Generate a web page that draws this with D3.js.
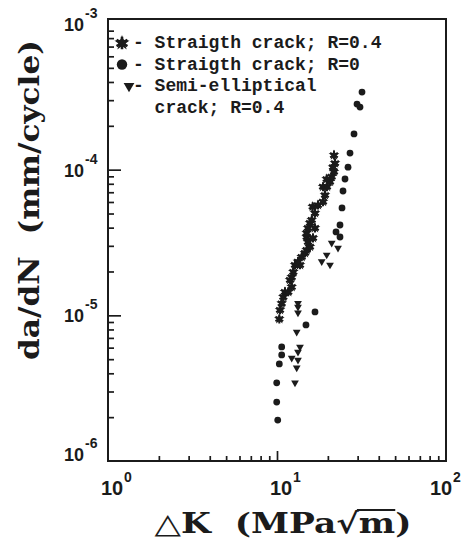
<!DOCTYPE html>
<html>
<head>
<meta charset="utf-8">
<script src="https://cdn.jsdelivr.net/npm/d3@7"></script>
<style>
  body { margin: 0; background: #fff; }
  text { fill: #1b1b1b; }
</style>
</head>
<body>
<svg id="chart"></svg>
<script>
// straight crack, R=0.4 (asterisks)
const starDK = [10.32, 10.42, 10.66, 10.90, 11.15, 11.66, 11.94, 12.22, 12.49, 12.22,
  12.78, 13.68, 14.00, 13.31, 14.64, 14.98, 15.67, 14.98, 16.33, 15.25,
  14.98, 15.67, 15.25, 16.78, 16.05, 16.78, 16.26, 17.48, 18.72, 19.23,
  18.72, 19.76, 20.59, 19.68, 21.07, 21.74, 22.04, 21.74, 21.45]
const starRate = [9.45e-6, 1.09e-5, 1.21e-5, 1.34e-5, 1.45e-5, 1.45e-5, 1.75e-5, 1.57e-5, 1.99e-5, 1.83e-5,
  2.22e-5, 2.22e-5, 2.52e-5, 2.34e-5, 2.68e-5, 2.81e-5, 2.96e-5, 3.45e-5, 3.40e-5, 3.19e-5,
  3.68e-5, 4.31e-5, 3.98e-5, 3.98e-5, 4.52e-5, 5.04e-5, 5.57e-5, 5.72e-5, 6.03e-5, 6.70e-5,
  7.64e-5, 7.64e-5, 8.27e-5, 8.63e-5, 8.95e-5, 9.69e-5, 1.11e-4, 1.26e-4, 1.04e-4]

// straight crack, R=0 (dots)
const dotDK = [10.10, 9.96, 9.96, 10.32, 10.66, 10.66, 14.84, 16.78, 22.35, 23.59,
  23.59, 24.25, 24.58, 25.26, 26.32, 27.04, 28.56, 30.99, 29.75, 31.84]
const dotRate = [1.91e-6, 2.54e-6, 3.44e-6, 4.64e-6, 5.35e-6, 6.07e-6, 8.59e-6, 1.055e-5, 3.74e-5, 4.17e-5,
  3.45e-5, 5.46e-5, 7.14e-5, 8.63e-5, 1.04e-4, 1.30e-4, 1.76e-4, 2.69e-4, 2.82e-4, 3.41e-4]

// semi-elliptical crack, R=0.4 (triangles)
const triDK = [13.31, 13.31, 13.31, 13.08, 13.68, 13.31, 12.22, 13.31, 13.08, 12.78,
  18.39, 19.68, 20.59, 21.07, 22.96]
const triRate = [1.21e-5, 1.14e-5, 1.04e-5, 7.69e-6, 6.07e-6, 5.61e-6, 5.10e-6, 4.94e-6, 4.36e-6, 3.44e-6,
  2.34e-5, 2.60e-5, 2.22e-5, 3.14e-5, 2.90e-5]

const xTickValues = [1, 10, 100]
const xTickExps = ['0', '1', '2']
const yTickValues = [1e-6, 1e-5, 1e-4, 1e-3]
const yTickExps = ['-6', '-5', '-4', '-3']
const legendLabels = [['- Straigth crack; R=0.4'], ['- Straigth crack; R=0'], ['- Semi-elliptical', '  crack; R=0.4']]

const width = 471
const height = 544
const ink = '#1b1b1b'

const svg = d3.select('#chart').attr('width', width).attr('height', height)

const x = d3.scaleLog().domain([1, 100]).range([108, 446])
const y = d3.scaleLog().domain([1e-6, 1e-3]).range([461, 24])

const frameTop = 19
svg.append('rect')
  .attr('x', x(1))
  .attr('y', frameTop)
  .attr('width', x(100) - x(1))
  .attr('height', y(1e-6) - frameTop)
  .attr('fill', 'none')
  .attr('stroke', ink)
  .attr('stroke-width', 2)

const isMajor = (v) => Math.abs(Math.log10(v) - Math.round(Math.log10(v))) < 1e-9

function tickAxis(axis, values, size) {
  return (g) => {
    g.call(axis.tickValues(values).tickSizeInner(-size).tickSizeOuter(0).tickFormat(''))
    g.select('.domain').remove()
    g.selectAll('line').attr('stroke', ink).attr('stroke-width', 1.7)
  }
}

const yAll = y.ticks()
svg.append('g').attr('transform', `translate(${x(1)},0)`)
  .call(tickAxis(d3.axisLeft(y), yAll.filter((v) => !isMajor(v) && v < 1e-3), 6))
svg.append('g').attr('transform', `translate(${x(1)},0)`)
  .call(tickAxis(d3.axisLeft(y), yAll.filter((v) => isMajor(v) && v < 1e-3 && v > 1e-6), 13))

const xAll = x.ticks()
svg.append('g').attr('transform', `translate(0,${y(1e-6)})`)
  .call(tickAxis(d3.axisBottom(x), xAll.filter((v) => !isMajor(v)), 5))
svg.append('g').attr('transform', `translate(0,${y(1e-6)})`)
  .call(tickAxis(d3.axisBottom(x), xAll.filter((v) => isMajor(v) && v > 1 && v < 100), 10))

// tick labels: 10 with superscript
yTickValues.forEach((v, i) => {
  const ty = y(v) + (i === 0 ? -7 : 0)
  svg.append('text')
    .attr('x', 84).attr('y', ty + 7)
    .attr('text-anchor', 'end')
    .style('font', 'bold 18px "Liberation Sans", Arial, sans-serif')
    .text('10')
  svg.append('text')
    .attr('x', 85).attr('y', ty - 6)
    .style('font', 'bold 14px "Liberation Sans", Arial, sans-serif')
    .text(yTickExps[i])
})

xTickValues.forEach((v, i) => {
  const cx = x(v) + (i === xTickValues.length - 1 ? -5 : 4)
  svg.append('text')
    .attr('x', cx).attr('y', 495)
    .attr('text-anchor', 'middle')
    .style('font', 'bold 20px "Liberation Sans", Arial, sans-serif')
    .text('10')
  svg.append('text')
    .attr('x', cx + 12).attr('y', 482)
    .style('font', 'bold 14px "Liberation Sans", Arial, sans-serif')
    .text(xTickExps[i])
})

// axis titles
svg.append('text')
  .attr('transform', 'translate(39,200) rotate(-90)')
  .attr('text-anchor', 'middle')
  .attr('textLength', 320)
  .attr('lengthAdjust', 'spacingAndGlyphs')
  .style('white-space', 'pre')
  .style('font', 'bold 27px "DejaVu Serif", "Liberation Serif", serif')
  .text('da/dN  (mm/cycle)')

const xTitle = svg.append('text')
  .attr('x', 283).attr('y', 533)
  .attr('text-anchor', 'middle')
  .attr('textLength', 257)
  .attr('lengthAdjust', 'spacingAndGlyphs')
  .style('white-space', 'pre')
  .style('font', 'bold 28px "DejaVu Serif", "Liberation Serif", serif')
xTitle.append('tspan').style('font-family', '"DejaVu Sans", sans-serif').style('font-weight', 'normal').text('\u25B3')
xTitle.append('tspan').text('K  (MPa\u221Am)')
const rootBox = xTitle.node().getExtentOfChar(8)
const mBox = xTitle.node().getExtentOfChar(9)
svg.append('line')
  .attr('x1', rootBox.x + rootBox.width - 2)
  .attr('x2', mBox.x + mBox.width)
  .attr('y1', rootBox.y + 3)
  .attr('y2', rootBox.y + 3)
  .attr('stroke', ink)
  .attr('stroke-width', 2.2)

// markers
const starPath = d3.symbol(d3.symbolStar)
const astPath = d3.symbol(d3.symbolAsterisk || d3.symbolCross)
const triPath = d3.symbol(d3.symbolTriangle)

// filled gear-like asterisk, as the scanned markers look
function drawStar(g, size) {
  g.append('path').attr('d', astPath.size(size * 1.4)()).attr('fill', 'none').attr('stroke', ink).attr('stroke-width', size > 60 ? 2.6 : 2)
  g.append('path').attr('d', starPath.size(size * 0.9)()).attr('fill', ink)
  g.append('circle').attr('r', Math.sqrt(size) / 2.4).attr('fill', ink)
}

const marks = svg.append('g')

marks.selectAll('.star')
  .data(d3.zip(starDK, starRate))
  .join('g')
  .classed('star', true)
  .attr('transform', (d) => `translate(${x(d[0])},${y(d[1])})`)
  .each(function () { drawStar(d3.select(this), 40) })

marks.selectAll('.dot')
  .data(d3.zip(dotDK, dotRate))
  .join('circle')
  .classed('dot', true)
  .attr('cx', (d) => x(d[0]))
  .attr('cy', (d) => y(d[1]))
  .attr('r', 3.4)
  .attr('fill', ink)

marks.selectAll('.tri')
  .data(d3.zip(triDK, triRate))
  .join('path')
  .classed('tri', true)
  .attr('d', triPath.size(26)())
  .attr('transform', (d) => `translate(${x(d[0])},${y(d[1])}) rotate(180)`)
  .attr('fill', ink)

// legend
const legend = svg.append('g')
const lineGap = 21.5
const legendTop = 48
let row = 0
legendLabels.forEach((lines, i) => {
  const my = legendTop + row * lineGap - 5
  const mk = legend.append('g')
  if (i === 0) {
    mk.attr('transform', `translate(122,${my})`)
    drawStar(mk, 80)
  } else if (i === 1) {
    mk.attr('transform', `translate(122,${my})`)
    mk.append('circle').attr('r', 5.2).attr('fill', ink)
  } else {
    mk.append('path').attr('d', triPath.size(50)())
      .attr('transform', `translate(129,${my}) rotate(180)`).attr('fill', ink)
  }
  lines.forEach((txt) => {
    legend.append('text')
      .attr('x', 133)
      .attr('y', legendTop + row * lineGap)
      .style('white-space', 'pre')
      .style('font', 'bold 18px "Liberation Mono", "DejaVu Sans Mono", monospace')
      .text(txt)
    row += 1
  })
})
</script>
</body>
</html>
